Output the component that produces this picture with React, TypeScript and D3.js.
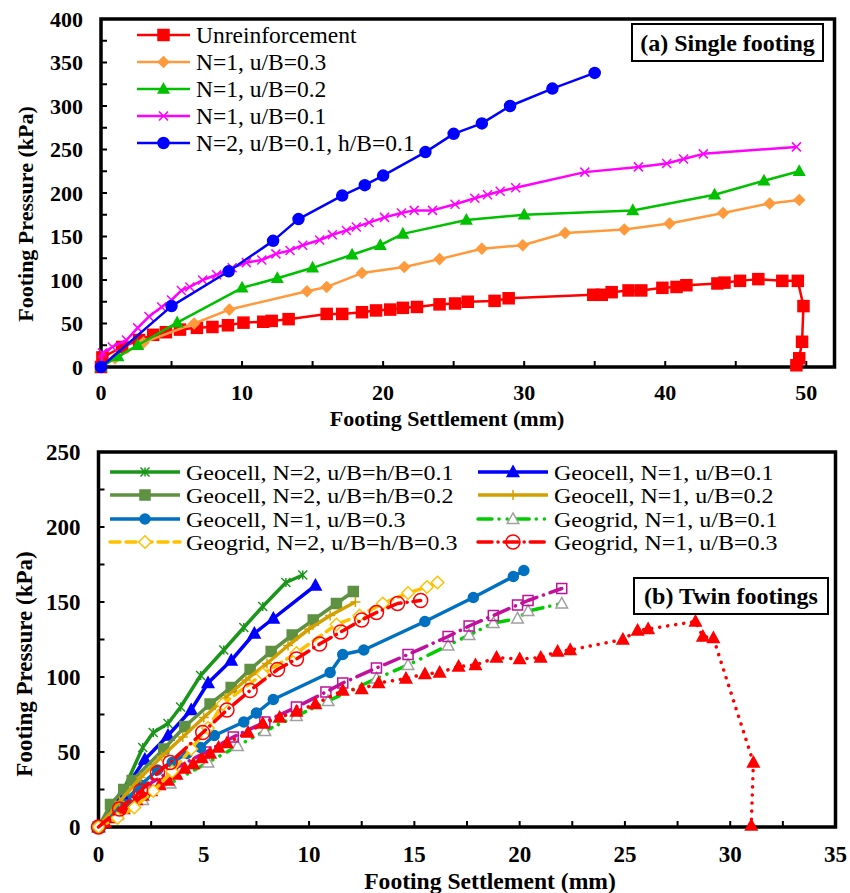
import React from 'react';
import * as d3 from 'd3';

const FONT = "'Liberation Serif', 'Times New Roman', Times, 'DejaVu Serif', serif";

// ---------- (a) Single footing data: [settlement mm, pressure kPa] ----------
const unreinforced: [number, number][] = [
  [0, 0], [0.1, 11], [1.5, 23], [2.7, 31], [3.7, 37], [4.6, 40], [5.6, 43], [6.8, 45], [7.9, 46], [9, 48],
  [10.1, 51], [11.5, 52], [12.1, 53], [13.3, 55], [16, 61], [17.1, 61], [18.5, 63], [19.5, 65], [20.5, 66],
  [21.4, 68], [22.4, 69], [24, 72], [25.1, 73], [26, 75], [27.9, 76], [28.9, 79], [34.9, 83], [35.5, 83],
  [36.2, 86], [37.4, 88], [38.3, 88], [39.8, 91], [40.8, 92], [41.5, 94], [43.7, 96], [44.2, 97], [45.3, 99],
  [46.6, 101], [48.3, 99], [49.4, 99], [49.8, 70], [49.7, 29], [49.5, 10], [49.3, 2],
];
const n1u03: [number, number][] = [
  [0, 0], [1, 10], [3, 28], [6.6, 50], [9.1, 66], [14.6, 87], [16, 92], [18.5, 108], [21.5, 115], [24, 124],
  [27, 136], [29.9, 140], [32.9, 154], [37.1, 158], [40.3, 165], [44.1, 177], [47.4, 188], [49.5, 192],
];
const n1u02: [number, number][] = [
  [0, 0], [1.2, 12], [2.6, 25], [5.4, 51], [10, 91], [12.5, 102], [15, 114], [17.8, 129], [19.8, 140],
  [21.4, 153], [25.9, 169], [30, 175], [37.7, 180], [43.5, 198], [47, 214], [49.5, 225],
];
const n1u01: [number, number][] = [
  [0, 0], [0.1, 16], [0.8, 23], [1.8, 31], [2.6, 45], [3.4, 58], [4.3, 69], [5, 77], [5.7, 88], [6.3, 92],
  [7.2, 100], [8.2, 106], [9.3, 114], [10.3, 120], [11.4, 123], [12.4, 130], [13.4, 134], [14.3, 140],
  [15.5, 146], [16.4, 152], [17.4, 157], [18.1, 161], [19, 166], [20.1, 172], [21.3, 177], [22.2, 180],
  [23.5, 180], [25.1, 187], [26.5, 194], [27.4, 198], [28.3, 202], [29.4, 206], [34.3, 224], [38.1, 230],
  [40.1, 234], [41.3, 239], [42.7, 245], [49.3, 253],
];
const n2u01h01: [number, number][] = [
  [0, 0], [5, 70], [9.05, 110], [12.2, 145], [14, 170], [17.1, 197], [18.7, 209], [20, 220], [23, 247],
  [25, 268], [27, 280], [29, 300], [32, 320], [35, 338],
];

const topNames = ['Unreinforcement', 'N=1, u/B=0.3', 'N=1, u/B=0.2', 'N=1, u/B=0.1', 'N=2, u/B=0.1, h/B=0.1'];
const topYTicks = [0, 50, 100, 150, 200, 250, 300, 350, 400];
const topXTicks = [0, 10, 20, 30, 40, 50];

// ---------- (b) Twin footings data ----------
const gcN2u01: [number, number][] = [
  [0, 0], [1.2, 25], [2.1, 53], [2.6, 63], [3.3, 69], [3.9, 80], [4.85, 101], [5.95, 118], [6.9, 133],
  [7.8, 147], [8.9, 163], [9.7, 168],
];
const gcN1u01: [number, number][] = [
  [0, 0], [1.1, 22], [2.2, 45], [3.3, 61], [4.4, 78], [5.2, 96], [6.3, 111], [7.4, 129], [8.3, 139], [10.3, 161],
];
const gcN2u02: [number, number][] = [
  [0, 0], [0.57, 15], [1.2, 25], [1.6, 31], [3.1, 52], [4.1, 67], [5.3, 82], [6.3, 93], [7.2, 105], [8.2, 117],
  [9.2, 128], [10.2, 138], [11.3, 149], [12.1, 157],
];
const gcN1u02: [number, number][] = [
  [0, 0], [1, 17], [2, 33], [3, 47], [4, 60], [5, 73], [6, 86], [7, 98], [8, 109], [9, 121], [10, 132],
  [11, 141], [12.2, 150],
];
const gcN1u03: [number, number][] = [
  [0, 0], [0.7, 10], [1.3, 18], [2, 28], [2.8, 38], [3.5, 43], [4.2, 49], [4.85, 53], [5.5, 61], [6.9, 70],
  [7.5, 76], [8.3, 85], [11, 103], [11.6, 115], [12.6, 118], [15.5, 137], [17.8, 153], [19.7, 167], [20.2, 171],
];
const ggN2u03: [number, number][] = [
  [0, 0], [0.9, 6], [1.7, 13], [2.6, 24], [3.5, 37], [4.4, 52], [5.2, 66], [5.9, 82], [7.8, 102], [9.4, 116],
  [11.3, 135], [12.4, 141], [13.5, 149], [14.7, 156], [15.6, 160], [16.1, 163],
];
const ggN1u01: [number, number][] = [
  [0, 0], [0.9, 8], [2.1, 18], [3.4, 29], [5.2, 43], [6.6, 54], [7.9, 64], [9.4, 74], [10.9, 84], [13.2, 99],
  [14.7, 108], [16.6, 121], [17.6, 128], [18.75, 136], [19.9, 139], [20.4, 144], [22, 149],
];
const ggN1u03: [number, number][] = [
  [0, 0], [1, 12], [2, 24], [2.8, 36], [3.4, 43], [4.95, 63], [6.1, 78], [7.2, 91], [8.5, 105], [9.4, 112],
  [10.5, 122], [11.5, 130], [12.5, 138], [13.2, 143], [14.2, 149], [15.3, 151],
];
const magentaSeries: [number, number][] = [
  [0, 0], [0.8, 13], [2.1, 26], [3.5, 38], [5.1, 50], [6.4, 60], [7.9, 70], [9.4, 80], [10.8, 90], [11.6, 96],
  [13.2, 106], [14.7, 115], [16.6, 127], [17.6, 134], [18.75, 141], [19.9, 148], [20.4, 151], [22, 159],
];
const redTriSeries: [number, number][] = [
  [0, 0], [0.3, 3], [0.6, 6], [0.9, 9], [1.2, 12], [1.5, 15], [1.8, 18], [2.1, 21], [2.5, 24], [2.9, 28],
  [3.3, 31], [3.7, 35], [4.1, 39], [4.5, 42], [4.9, 46], [5.3, 49], [5.7, 53], [6.1, 56], [7.1, 63], [7.8, 69],
  [8.6, 73], [9.4, 77], [10.3, 82], [11.6, 91], [12.5, 92], [13.3, 96], [14.6, 99], [15.5, 102], [16.2, 103],
  [17.1, 107], [17.9, 108], [18.9, 113], [20, 112], [21, 113], [21.8, 117], [22.4, 118], [24.9, 125],
  [25.6, 131], [26.1, 132], [28.35, 137], [28.7, 127], [29.2, 126], [31.1, 43], [31, 1],
];

const botNames = [
  'Geocell, N=2, u/B=h/B=0.1', 'Geocell, N=1, u/B=0.1', 'Geocell, N=2, u/B=h/B=0.2', 'Geocell, N=1, u/B=0.2',
  'Geocell, N=1, u/B=0.3', 'Geogrid, N=1, u/B=0.1', 'Geogrid, N=2, u/B=h/B=0.3', 'Geogrid, N=1, u/B=0.3',
];
const botYTicks = [0, 50, 100, 150, 200, 250];
const botXTicks = [0, 5, 10, 15, 20, 25, 30, 35];

type MType = 'square' | 'diamond' | 'triangle' | 'x' | 'circle' | 'asterisk' | 'plus';

function Marker({ t, x, y, s, stroke, fill, sw = 1.5 }: { t: MType; x: number; y: number; s: number; stroke: string; fill: string; sw?: number }) {
  const h = s / 2;
  switch (t) {
    case 'square':
      return <rect x={x - h} y={y - h} width={s} height={s} fill={fill} stroke={stroke} strokeWidth={sw} />;
    case 'diamond':
      return <path d={`M${x},${y - h * 1.05}L${x + h * 1.05},${y}L${x},${y + h * 1.05}L${x - h * 1.05},${y}Z`} fill={fill} stroke={stroke} strokeWidth={sw} />;
    case 'triangle':
      return <path d={`M${x},${y - h * 1.1}L${x + h * 1.05},${y + h * 0.8}L${x - h * 1.05},${y + h * 0.8}Z`} fill={fill} stroke={stroke} strokeWidth={sw} />;
    case 'circle':
      return <circle cx={x} cy={y} r={h} fill={fill} stroke={stroke} strokeWidth={sw} />;
    case 'x':
      return <path d={`M${x - h},${y - h}L${x + h},${y + h}M${x - h},${y + h}L${x + h},${y - h}`} stroke={stroke} strokeWidth={sw} fill="none" />;
    case 'plus':
      return <path d={`M${x},${y - h}L${x},${y + h}M${x - h},${y}L${x + h},${y}`} stroke={stroke} strokeWidth={sw} fill="none" />;
    case 'asterisk':
      return <path d={`M${x - h},${y - h}L${x + h},${y + h}M${x - h},${y + h}L${x + h},${y - h}M${x},${y - h}L${x},${y + h}`} stroke={stroke} strokeWidth={sw} fill="none" />;
  }
  return null;
}

interface SeriesDef {
  data: [number, number][];
  color: string;
  width: number;
  dash?: string;
  m: MType;
  ms: number;
  mStroke: string;
  mFill: string;
  msw?: number;
  name?: string;
}

// Top chart geometry
const tx = d3.scaleLinear().domain([0, 52]).range([101, 834.5]);
const ty = d3.scaleLinear().domain([0, 400]).range([367, 19]);
// Bottom chart geometry
const bx = d3.scaleLinear().domain([0, 35]).range([98.5, 835.5]);
const by = d3.scaleLinear().domain([0, 250]).range([827, 452]);

const topSeries: SeriesDef[] = [
  { data: unreinforced, color: '#ff0000', width: 2.5, m: 'square', ms: 11, mStroke: '#ff0000', mFill: '#ff0000', name: topNames[0] },
  { data: n1u03, color: '#ff9a3c', width: 2.5, m: 'diamond', ms: 10, mStroke: '#ff9a3c', mFill: '#ff9a3c', name: topNames[1] },
  { data: n1u02, color: '#00c000', width: 2.5, m: 'triangle', ms: 10, mStroke: '#00c000', mFill: '#00c000', name: topNames[2] },
  { data: n1u01, color: '#ff00ff', width: 2.5, m: 'x', ms: 9, mStroke: '#ff00ff', mFill: 'none', name: topNames[3] },
  { data: n2u01h01, color: '#0000ff', width: 2.5, m: 'circle', ms: 11, mStroke: '#0000ff', mFill: '#0000ff', name: topNames[4] },
];

const botSeries: SeriesDef[] = [
  { data: ggN1u01, color: '#00cc00', width: 3.5, dash: '14 7 0.1 8 0.1 8', m: 'triangle', ms: 11, mStroke: '#a0a0a0', mFill: 'white', msw: 1.5, name: botNames[5] },
  { data: magentaSeries, color: '#c0109c', width: 3.5, dash: '16 7 0.1 7', m: 'square', ms: 10, mStroke: '#c0109c', mFill: 'none', msw: 1.5 },
  { data: redTriSeries, color: '#ff0000', width: 3.5, dash: '0.1 8', m: 'triangle', ms: 11, mStroke: '#ff0000', mFill: '#ff0000' },
  { data: gcN1u03, color: '#0070c0', width: 3.5, m: 'circle', ms: 10, mStroke: '#0070c0', mFill: '#0070c0', name: botNames[4] },
  { data: gcN2u01, color: '#1a961a', width: 3.5, m: 'asterisk', ms: 9, mStroke: '#1a961a', mFill: 'none', name: botNames[0] },
  { data: gcN1u01, color: '#0000ff', width: 3.5, m: 'triangle', ms: 11, mStroke: '#0000ff', mFill: '#0000ff', name: botNames[1] },
  { data: gcN2u02, color: '#5e9141', width: 3.5, m: 'square', ms: 10, mStroke: '#5e9141', mFill: '#5e9141', name: botNames[2] },
  { data: gcN1u02, color: '#d4a000', width: 3.5, m: 'plus', ms: 10, mStroke: '#d4a000', mFill: 'none', name: botNames[3] },
  { data: ggN2u03, color: '#ffc000', width: 3.5, dash: '10 6', m: 'diamond', ms: 12, mStroke: '#ffc000', mFill: 'white', msw: 1.5, name: botNames[6] },
  { data: ggN1u03, color: '#ff0000', width: 3.5, dash: '14 6 0.1 6', m: 'circle', ms: 14, mStroke: '#ff0000', mFill: 'none', msw: 1.5, name: botNames[7] },
];

function SeriesG({ s, xs, ys }: { s: SeriesDef; xs: d3.ScaleLinear<number, number>; ys: d3.ScaleLinear<number, number> }) {
  const line = d3.line<[number, number]>().x(d => xs(d[0])).y(d => ys(d[1]));
  return (
    <g>
      <path d={line(s.data) || ''} fill="none" stroke={s.color} strokeWidth={s.width} strokeDasharray={s.dash} strokeLinecap={s.dash ? 'round' : 'butt'} strokeLinejoin="round" />
      {s.data.map((d, i) => (
        <Marker key={i} t={s.m} x={xs(d[0])} y={ys(d[1])} s={s.ms} stroke={s.mStroke} fill={s.mFill} sw={s.msw ?? 1.5} />
      ))}
    </g>
  );
}

function LegendItem({ s, x1, x2, y, label, fs, sx = 1 }: { s: SeriesDef; x1: number; x2: number; y: number; label: string; fs: number; sx?: number }) {
  const mx = (x1 + x2) / 2;
  return (
    <g>
      <line x1={x1} x2={x2} y1={y} y2={y} stroke={s.color} strokeWidth={s.width} strokeDasharray={s.dash} strokeLinecap={s.dash ? 'round' : 'butt'} />
      <Marker t={s.m} x={mx} y={y} s={s.ms} stroke={s.mStroke} fill={s.mFill} sw={s.msw ?? 1.5} />
      <text transform={`translate(${x2 + 6},${y}) scale(${sx},1)`} dy="0.35em" fontSize={fs} style={{ fontFamily: FONT }}>{label}</text>
    </g>
  );
}

function Frame({ xs, ys, xTicks, xMinor, yTicks, yMinor, tickFs, labOff }: any) {
  const [x0, x1] = xs.range();
  const [y0, y1] = ys.range();
  return (
    <g>
      {xMinor.map((v: number) => (
        <line key={'xm' + v} x1={xs(v)} x2={xs(v)} y1={y0} y2={y0 - 6} stroke="black" strokeWidth={2} />
      ))}
      {yMinor.map((v: number) => (
        <line key={'ym' + v} x1={x0} x2={x0 + 6} y1={ys(v)} y2={ys(v)} stroke="black" strokeWidth={2} />
      ))}
      <rect x={x0} y={y1} width={x1 - x0} height={y0 - y1} fill="none" stroke="black" strokeWidth={3.5} />
      {yTicks.map((v: number) => (
        <text key={'yl' + v} x={x0 - 18} y={ys(v)} dy="0.35em" textAnchor="end" fontSize={tickFs} fontWeight="bold" style={{ fontFamily: FONT }}>{v}</text>
      ))}
      {xTicks.map((v: number) => (
        <text key={'xl' + v} x={xs(v)} y={y0 + labOff} dy="0.35em" textAnchor="middle" fontSize={tickFs} fontWeight="bold" style={{ fontFamily: FONT }}>{v}</text>
      ))}
    </g>
  );
}

export default function App() {
  const topXMinor = d3.range(0, 52, 5);
  const topYMinor = d3.range(0, 401, 25);
  const botXMinor = d3.range(0, 35.1, 2.5);
  const botYMinor = d3.range(0, 251, 25);
  const topLegY = [35, 62, 89, 116, 143];
  const botLegY = [472, 495, 519, 542];
  // left column: Geocell N=2 0.1, Geocell N=2 0.2, Geocell N=1 0.3, Geogrid N=2 0.3
  const leftCol = [botSeries[4], botSeries[6], botSeries[3], botSeries[8]];
  // right column: Geocell N=1 0.1, Geocell N=1 0.2, Geogrid N=1 0.1, Geogrid N=1 0.3
  const rightCol = [botSeries[5], botSeries[7], botSeries[0], botSeries[9]];
  const tf = { fontFamily: FONT };
  return (
    <svg width={850} height={893} style={{ display: 'block', position: 'absolute', left: 0, top: 0, fontFamily: FONT }}>
      <rect x={0} y={0} width={850} height={893} fill="white" />
      {/* ---------- Top chart ---------- */}
      <Frame xs={tx} ys={ty} xTicks={topXTicks} xMinor={topXMinor} yTicks={topYTicks} yMinor={topYMinor} tickFs={22} labOff={25} />
      {topSeries.map((s, i) => <SeriesG key={i} s={s} xs={tx} ys={ty} />)}
      {topSeries.map((s, i) => (
        <LegendItem key={i} s={s} x1={137} x2={190} y={topLegY[i]} label={s.name!} fs={23.5} />
      ))}
      <rect x={632} y={24} width={191} height={37} fill="white" stroke="black" strokeWidth={2} />
      <text x={727.5} y={42.5} dy="0.35em" textAnchor="middle" fontSize={24} fontWeight="bold" style={tf}>(a) Single footing</text>
      <text x={447} y={418} dy="0.35em" textAnchor="middle" fontSize={22} fontWeight="bold" style={tf}>Footing Settlement (mm)</text>
      <text transform="translate(25,214) rotate(-90)" dy="0.35em" textAnchor="middle" fontSize={22} fontWeight="bold" style={tf}>Footing Pressure (kPa)</text>

      {/* ---------- Bottom chart ---------- */}
      <Frame xs={bx} ys={by} xTicks={botXTicks} xMinor={botXMinor} yTicks={botYTicks} yMinor={botYMinor} tickFs={23} labOff={27} />
      {botSeries.map((s, i) => <SeriesG key={i} s={s} xs={bx} ys={by} />)}
      {leftCol.map((s, i) => (
        <LegendItem key={'l' + i} s={s} x1={110} x2={180} y={botLegY[i]} label={s.name!} fs={22} sx={1.09} />
      ))}
      {rightCol.map((s, i) => (
        <LegendItem key={'r' + i} s={s} x1={478} x2={548} y={botLegY[i]} label={s.name!} fs={22} sx={1.09} />
      ))}
      <rect x={634} y={578} width={194} height={36} fill="white" stroke="black" strokeWidth={2} />
      <text x={731} y={596} dy="0.35em" textAnchor="middle" fontSize={24} fontWeight="bold" style={tf}>(b) Twin footings</text>
      <text transform="translate(490,881) scale(1.05,1)" dy="0.35em" textAnchor="middle" fontSize={22.5} fontWeight="bold" style={tf}>Footing Settlement (mm)</text>
      <text transform="translate(24,664) rotate(-90)" dy="0.35em" textAnchor="middle" fontSize={23} fontWeight="bold" style={tf}>Footing Pressure (kPa)</text>
    </svg>
  );
}
